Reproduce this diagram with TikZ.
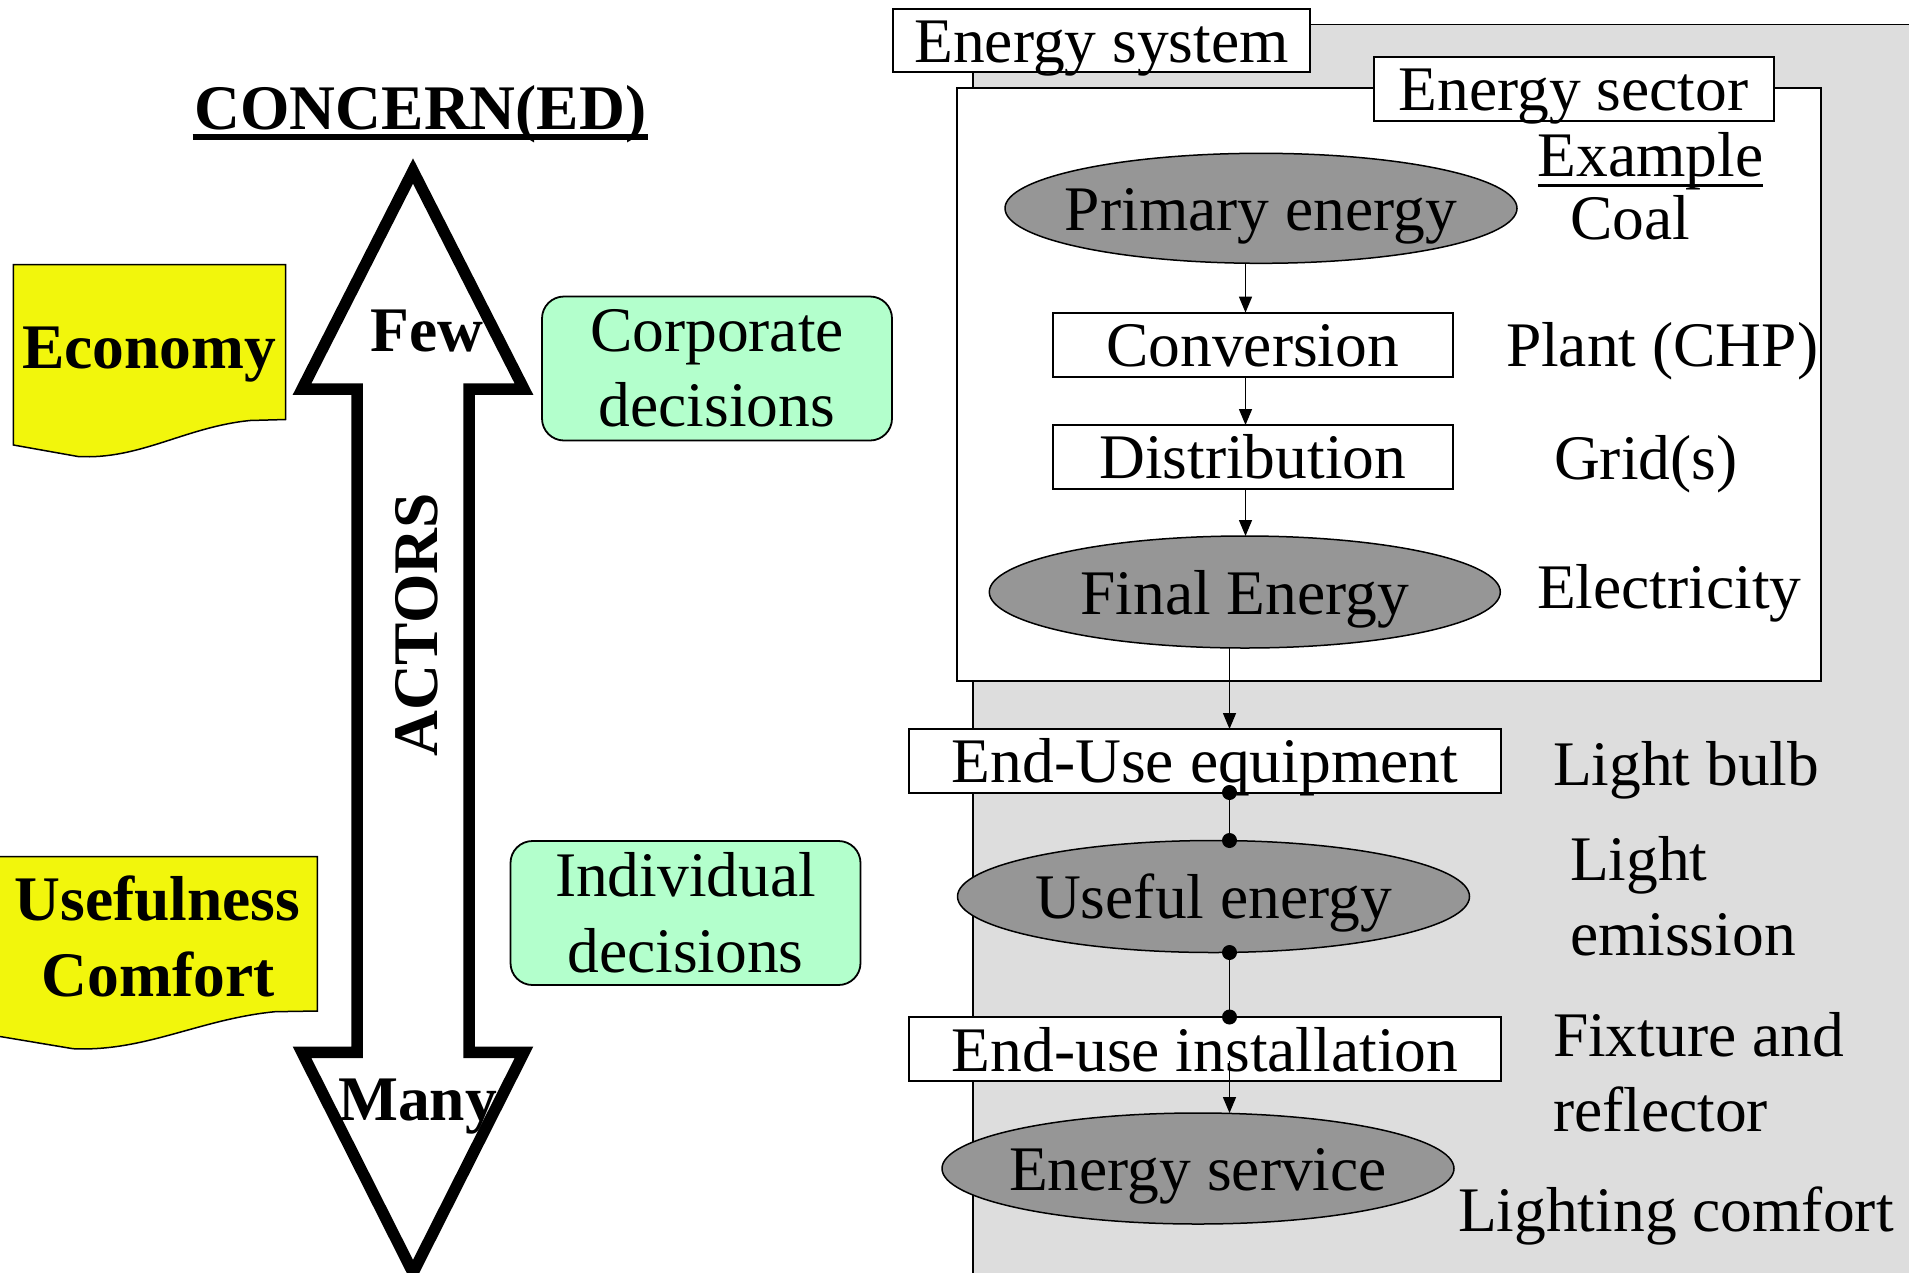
\documentclass[tikz,border=0pt]{standalone}
\usepackage{fontspec}
\setmainfont{Liberation Serif}
\usetikzlibrary{shapes.geometric,arrows.meta,calc}
\definecolor{noteyellow}{RGB}{242,246,12}
\definecolor{decgreen}{RGB}{179,255,204}
\definecolor{ovalgray}{RGB}{150,150,150}
\definecolor{sysgray}{RGB}{221,221,221}
\begin{document}
\begin{tikzpicture}[x=1pt,y=-1pt,
  every node/.style={font=\fontsize{63.5pt}{75.5pt}\selectfont, inner sep=0pt, outer sep=0pt},
  bigbold/.style={font=\fontsize{63.5pt}{76pt}\selectfont\bfseries},
  stagebox/.style={draw, line width=2pt, fill=white, rectangle, text height=44pt, text depth=0pt},
  stageoval/.style={draw, line width=1.5pt, fill=ovalgray, ellipse, text height=44pt, text depth=0pt},
  decbox/.style={draw, line width=1.8pt, fill=decgreen, rounded corners=22pt, minimum width=350pt, minimum height=144pt, align=center},
  flow/.style={line width=1.5pt, -{Triangle[length=16pt,width=13pt]}},
  link/.style={line width=1.5pt},
  joindot/.style={circle, fill=black, minimum size=15pt, inner sep=0pt},
  exlabel/.style={anchor=base west},
  notefill/.style={fill=noteyellow, draw=black, line width=1.5pt},
]
\useasboundingbox (0,0) rectangle (1909,1272);
\clip (0,0) rectangle (1909,1272);

% ---------- left part ----------
\node[bigbold, anchor=base] (concern) at (420.5,129.3) {CONCERN(ED)};
\draw[line width=5.5pt] ($(concern.base west)+(-2,7.7)$) -- ($(concern.base east)+(2,7.7)$);

% double arrow
\draw[line width=11.5pt, fill=white, line join=miter]
  (413,171) -- (524,389.2) -- (469,389.2) -- (469,1052.3) -- (524,1052.3)
  -- (413,1272.6) -- (302,1052.3) -- (357,1052.3) -- (357,389.2) -- (302,389.2) -- cycle;
\node[bigbold, anchor=base west] (few) at (370.5,351.6) {Few};
\node[bigbold, anchor=base west] (many) at (338.3,1120) {Many};
\node[bigbold, rotate=90, anchor=base] (actors) at (437.5,625) {ACTORS};

% yellow notes
\path[notefill] (13.4,264.5) -- (285.7,264.5) -- (285.7,419.5) -- (250,420.5)
  .. controls (185,427) and (140,460) .. (78,456.5) -- (13.4,445) -- cycle;
\node[bigbold, anchor=base] (econ) at (149,368) {Economy};

\path[notefill] (-3,856.7) -- (317.3,856.7) -- (317.3,1011) -- (275,1011.7)
  .. controls (200,1019) and (145,1052) .. (73,1048.7) -- (-3,1036) -- cycle;
\node[bigbold, anchor=base] (usef) at (157.5,920.7) {Usefulness};
\node[bigbold, anchor=base] (comf) at (158,996.7) {Comfort};

% green decision boxes
\node[decbox] (corp) at (717,368.5) {Corporate\\decisions};
\node[decbox] (indiv) at (685.5,913) {Individual\\decisions};

% ---------- right part ----------
\filldraw[fill=sysgray, draw=black, line width=1.5pt] (973.2,24.6) rectangle (1935,1295);
\filldraw[fill=white, draw=black, line width=2pt] (957.4,88) rectangle (1820.5,680.8);
\node[stagebox, minimum width=417pt, minimum height=63.3pt] (sys) at (1101.5,40.65) {Energy system};
\node[stagebox, minimum width=400pt, minimum height=63.8pt] (sec) at (1573.5,88.6) {Energy sector};

\node[stageoval, minimum width=512pt, minimum height=110pt] (prim) at (1261,208.3) {\makebox[0pt]{Primary energy}};
\node[stagebox, minimum width=400pt, minimum height=64.5pt] (conv) at (1252.7,344.85) {Conversion};
\node[stagebox, minimum width=400pt, minimum height=63.8pt] (dist) at (1252.7,456.9) {Distribution};
\node[stageoval, minimum width=511pt, minimum height=112pt] (final) at (1244.8,592) {\makebox[0pt]{Final Energy}};
\node[stagebox, minimum width=592pt, minimum height=63.5pt] (eue) at (1205,760.75) {End-Use equipment};
\node[stageoval, minimum width=512pt, minimum height=112pt] (usefulE) at (1213.5,896.5) {\makebox[0pt]{Useful energy}};
\node[stagebox, minimum width=592pt, minimum height=64pt] (eui) at (1205,1049) {End-use installation};
\node[stageoval, minimum width=512pt, minimum height=111pt] (serv) at (1198,1168.5) {\makebox[0pt]{Energy service}};

\coordinate (ax) at (1245.5,0);
\coordinate (bx) at (1229.5,0);
\draw[flow] (prim.south -| ax) -- (conv.north -| ax);
\draw[flow] (conv.south -| ax) -- (dist.north -| ax);
\draw[flow] (dist.south -| ax) -- (final.north -| ax);
\draw[flow] (final.south -| bx) -- (eue.north -| bx);
\draw[link] (eue.south -| bx) -- (usefulE.north -| bx);
\node[joindot] (d1) at (eue.south -| bx) {};
\node[joindot] (d2) at (usefulE.north -| bx) {};
\draw[link] (usefulE.south -| bx) -- (eui.north -| bx);
\node[joindot] (d3) at (usefulE.south -| bx) {};
\node[joindot] (d4) at (eui.north -| bx) {};
\coordinate (eis) at ($(eui.north -| bx)+(0,44)$);
\draw[flow] (eis) -- (serv.north -| bx);

% example labels
\node[exlabel] (ex) at (1537.7,176) {Example};
\draw[line width=3.5pt] ($(ex.base west)+(0,9.5)$) -- ($(ex.base east)+(0,9.5)$);
\node[exlabel] (coal) at (1570,239.3) {Coal};
\node[exlabel] (plant) at (1506,366.7) {Plant (CHP)};
\node[exlabel] (grid) at (1554,479.3) {Grid(s)};
\node[exlabel] (elec) at (1537,608) {Electricity};
\node[exlabel] (bulb) at (1553,785) {Light bulb};
\node[exlabel] (light) at (1570,880) {Light};
\node[exlabel] (emis) at (1570,955) {emission};
\node[exlabel] (fix) at (1553,1056) {Fixture and};
\node[exlabel] (refl) at (1553,1131.7) {reflector};
\node[exlabel] (lcomf) at (1458,1231.7) {Lighting comfort};
\end{tikzpicture}
\end{document}
